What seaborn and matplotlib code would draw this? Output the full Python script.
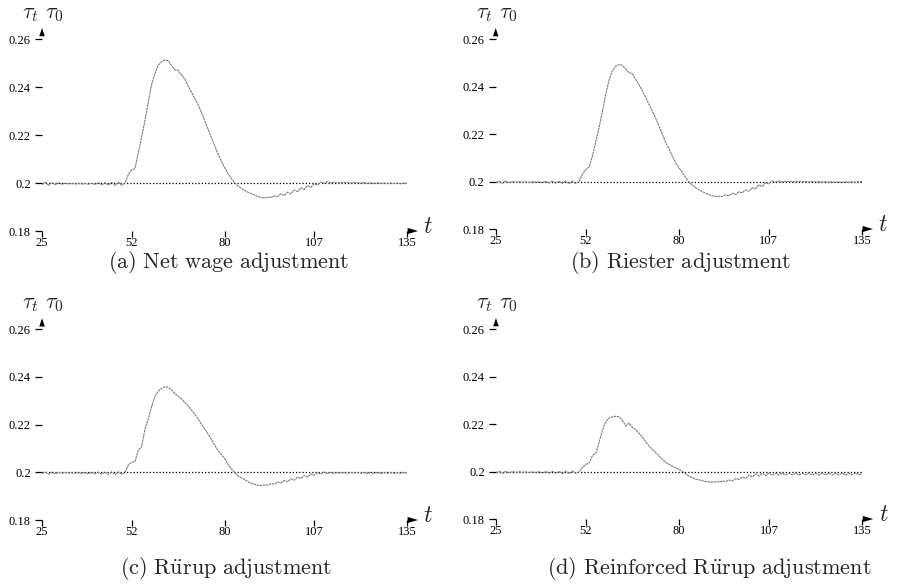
import numpy as np
import pandas as pd
import matplotlib
matplotlib.use("Agg")
import matplotlib.pyplot as plt
import seaborn as sns

# Simulation periods
t = np.arange(25, 136)

# tau_t / tau_0 under the four adjustment rules
net_wage = [
    0.1994, 0.2003, 0.1991, 0.2002, 0.1993, 0.2001, 0.1995, 0.1999, 0.1996, 0.1998,
    0.1996, 0.1998, 0.1996, 0.1998, 0.1995, 0.1999, 0.1994, 0.2001, 0.1992, 0.2002,
    0.1991, 0.2003, 0.1990, 0.2003, 0.1991, 0.1999,
    0.2035, 0.2055, 0.2060, 0.2125, 0.2190, 0.2260, 0.2335, 0.2410, 0.2455, 0.2490,
    0.2505, 0.2513, 0.2510, 0.2490, 0.2472, 0.2470, 0.2450, 0.2435, 0.2405, 0.2380,
    0.2352, 0.2328, 0.2295, 0.2262, 0.2225, 0.2190, 0.2157, 0.2122, 0.2092, 0.2065,
    0.2040, 0.2020, 0.2002, 0.1988, 0.1978, 0.1970, 0.1962, 0.1956, 0.1950, 0.1944,
    0.1939, 0.1938, 0.1941, 0.1940, 0.1946, 0.1944, 0.1955, 0.1948, 0.1962, 0.1955,
    0.1971, 0.1964, 0.1980, 0.1973, 0.1989, 0.1982, 0.1997, 0.1992, 0.2004, 0.1999,
    0.2006, 0.2001, 0.2003, 0.2000, 0.2002, 0.2001, 0.2002, 0.2000, 0.2002, 0.2001,
    0.1999, 0.2002, 0.1998, 0.2001, 0.1997, 0.2001, 0.1998, 0.2000, 0.1997, 0.2000,
    0.1998, 0.2000, 0.1997, 0.2000, 0.1999,
]
riester = [
    0.1996, 0.2001, 0.1993, 0.2002, 0.1995, 0.2000, 0.1996, 0.1999, 0.1997, 0.1998,
    0.1996, 0.1999, 0.1997, 0.1999, 0.1995, 0.2001, 0.1994, 0.2002, 0.1993, 0.2002,
    0.1992, 0.2003, 0.1991, 0.2002, 0.1992, 0.1999,
    0.2030, 0.2050, 0.2060, 0.2105, 0.2165, 0.2225, 0.2290, 0.2365, 0.2425, 0.2465,
    0.2485, 0.2492, 0.2490, 0.2475, 0.2458, 0.2455, 0.2430, 0.2410, 0.2382, 0.2355,
    0.2325, 0.2298, 0.2268, 0.2235, 0.2200, 0.2165, 0.2140, 0.2108, 0.2080, 0.2058,
    0.2040, 0.2018, 0.1998, 0.1985, 0.1974, 0.1966, 0.1958, 0.1951, 0.1945, 0.1940,
    0.1937, 0.1938, 0.1937, 0.1944, 0.1940, 0.1950, 0.1945, 0.1957, 0.1952, 0.1965,
    0.1959, 0.1974, 0.1969, 0.1986, 0.1979, 0.1995, 0.1990, 0.2003, 0.1998, 0.2002,
    0.1999, 0.2001, 0.2000, 0.2001, 0.1999, 0.2001, 0.1999, 0.2000, 0.1998, 0.2001,
    0.1998, 0.2000, 0.1997, 0.1999, 0.1997, 0.1999, 0.1996, 0.1999, 0.1996, 0.1999,
    0.1996, 0.1999, 0.1997, 0.1999, 0.2000,
]
ruerup = [
    0.1995, 0.2001, 0.1992, 0.2001, 0.1994, 0.2000, 0.1996, 0.1999, 0.1997, 0.1998,
    0.1996, 0.1998, 0.1996, 0.1999, 0.1994, 0.2000, 0.1993, 0.2001, 0.1992, 0.2001,
    0.1991, 0.2002, 0.1991, 0.2002, 0.1992, 0.1999,
    0.2030, 0.2042, 0.2045, 0.2092, 0.2108, 0.2180, 0.2222, 0.2275, 0.2318, 0.2340,
    0.2352, 0.2360, 0.2356, 0.2346, 0.2330, 0.2320, 0.2308, 0.2294, 0.2279, 0.2262,
    0.2245, 0.2225, 0.2203, 0.2183, 0.2162, 0.2140, 0.2115, 0.2092, 0.2075, 0.2058,
    0.2035, 0.2015, 0.2000, 0.1986, 0.1977, 0.1970, 0.1962, 0.1955, 0.1950, 0.1946,
    0.1944, 0.1948, 0.1946, 0.1953, 0.1950, 0.1959, 0.1955, 0.1966, 0.1961, 0.1973,
    0.1967, 0.1980, 0.1974, 0.1987, 0.1980, 0.1994, 0.1987, 0.2000, 0.1993, 0.2001,
    0.1995, 0.2000, 0.1996, 0.1999, 0.1997, 0.1999, 0.1996, 0.1999, 0.1997, 0.1999,
    0.1996, 0.1999, 0.1995, 0.1999, 0.1996, 0.1999, 0.1995, 0.1999, 0.1996, 0.1999,
    0.1995, 0.1999, 0.1996, 0.1999, 0.1997,
]
reinforced_ruerup = [
    0.1995, 0.2001, 0.1993, 0.2001, 0.1994, 0.2000, 0.1996, 0.1999, 0.1997, 0.1998,
    0.1996, 0.1998, 0.1996, 0.1999, 0.1994, 0.2000, 0.1993, 0.2001, 0.1992, 0.2001,
    0.1991, 0.2002, 0.1991, 0.2002, 0.1992, 0.1999,
    0.2018, 0.2030, 0.2036, 0.2068, 0.2078, 0.2125, 0.2175, 0.2210, 0.2225, 0.2230,
    0.2233, 0.2230, 0.2215, 0.2192, 0.2204, 0.2186, 0.2175, 0.2160, 0.2145, 0.2125,
    0.2108, 0.2092, 0.2080, 0.2065, 0.2050, 0.2038, 0.2030, 0.2022, 0.2015, 0.2008,
    0.2001, 0.1990, 0.1980, 0.1974, 0.1968, 0.1965, 0.1961, 0.1958, 0.1956, 0.1955,
    0.1957, 0.1956, 0.1960, 0.1958, 0.1964, 0.1961, 0.1970, 0.1966, 0.1977, 0.1971,
    0.1985, 0.1977, 0.1990, 0.1981, 0.1993, 0.1983, 0.1994, 0.1984, 0.1994, 0.1985,
    0.1994, 0.1985, 0.1993, 0.1986, 0.1993, 0.1985, 0.1993, 0.1986, 0.1994, 0.1985,
    0.1993, 0.1985, 0.1993, 0.1986, 0.1993, 0.1985, 0.1993, 0.1986, 0.1993, 0.1985,
    0.1993, 0.1986, 0.1994, 0.1986, 0.1992,
]

series = [net_wage, riester, ruerup, reinforced_ruerup]
captions = [
    r"$\mathrm{(a)\ Net\ wage\ adjustment}$",
    r"$\mathrm{(b)\ Riester\ adjustment}$",
    r"$\mathrm{(c)\ R\ddot{u}rup\ adjustment}$",
    r"$\mathrm{(d)\ Reinforced\ R\ddot{u}rup\ adjustment}$",
]
reference_level = 0.2
y_ticks = [0.18, 0.2, 0.22, 0.24, 0.26]
y_tick_labels = ["0.18", "0.2", "0.22", "0.24", "0.26"]
x_ticks = [25, 52, 80, 107, 135]

sns.set_theme(style="white")
plt.rcParams["mathtext.fontset"] = "cm"
plt.rcParams["font.family"] = ["Liberation Serif", "DejaVu Serif"]

fig = plt.figure(figsize=(8.98, 5.85), dpi=100)
fig.patch.set_facecolor("white")

axes_rects = [
    (0.0468, 0.6051, 0.4065, 0.3282),
    (0.5520, 0.6085, 0.4079, 0.3248),
    (0.0468, 0.1111, 0.4065, 0.3260),
    (0.5523, 0.1128, 0.4079, 0.3248),
]
# caption baselines
caption_xy = [
    (229 / 898, 1 - 268 / 585),
    (680 / 898, 1 - 268 / 585),
    (226 / 898, 1 - 574 / 585),
    (709 / 898, 1 - 574 / 585),
]

head_up = dict(arrowstyle="-|>,head_length=0.6,head_width=0.2", color="black",
               lw=0, mutation_scale=10, shrinkA=0, shrinkB=0)
head_right = dict(arrowstyle="-|>,head_length=0.75,head_width=0.22", color="black",
                  lw=0, mutation_scale=10, shrinkA=0, shrinkB=0)

for values, caption, rect, cxy in zip(series, captions, axes_rects, caption_xy):
    ax = fig.add_axes(rect)
    df = pd.DataFrame({"t": t, "ratio": values})
    ax.axhline(reference_level, color="black", lw=0.9, ls=(0, (1, 1.6)), zorder=1)
    sns.lineplot(data=df, x="t", y="ratio", ax=ax, color="#7a7a7a", lw=0.8,
                 ls=(0, (2.2, 0.6)), estimator=None, legend=False, zorder=2)
    ax.set_xlim(25, 135)
    ax.set_ylim(0.18, 0.26)
    ax.set_xticks(x_ticks)
    ax.set_xticklabels([str(v) for v in x_ticks])
    ax.set_yticks(y_ticks)
    ax.set_yticklabels(y_tick_labels)
    ax.set_xlabel("")
    ax.set_ylabel("")
    for s in ax.spines.values():
        s.set_visible(False)
    ax.grid(False)
    ax.set_facecolor("white")
    ax.tick_params(axis="both", which="major", direction="out", color="black",
                   width=0.9, labelsize=9, labelcolor="black", bottom=True, left=True)
    ax.tick_params(axis="x", length=4.5, pad=0)
    ax.tick_params(axis="y", length=5, pad=3)

    # arrowheads marking the axis directions
    ax.annotate("", xy=(0, 1.058), xytext=(0, 1.012), xycoords="axes fraction",
                textcoords="axes fraction", arrowprops=head_up, annotation_clip=False)
    ax.annotate("", xy=(1.03, 0), xytext=(1.003, 0), xycoords="axes fraction",
                textcoords="axes fraction", arrowprops=head_right, annotation_clip=False)

    ax.text(1.045, 0.02, r"$t$", transform=ax.transAxes, fontsize=17,
            ha="left", va="center")
    ax.text(-0.055, 1.13, r"$\tau_t\ \tau_0$", transform=ax.transAxes, fontsize=16,
            ha="left", va="center")

    fig.text(cxy[0], cxy[1], caption, fontsize=16, ha="center", va="baseline")

fig.savefig("out.png", dpi=100, facecolor="white")
